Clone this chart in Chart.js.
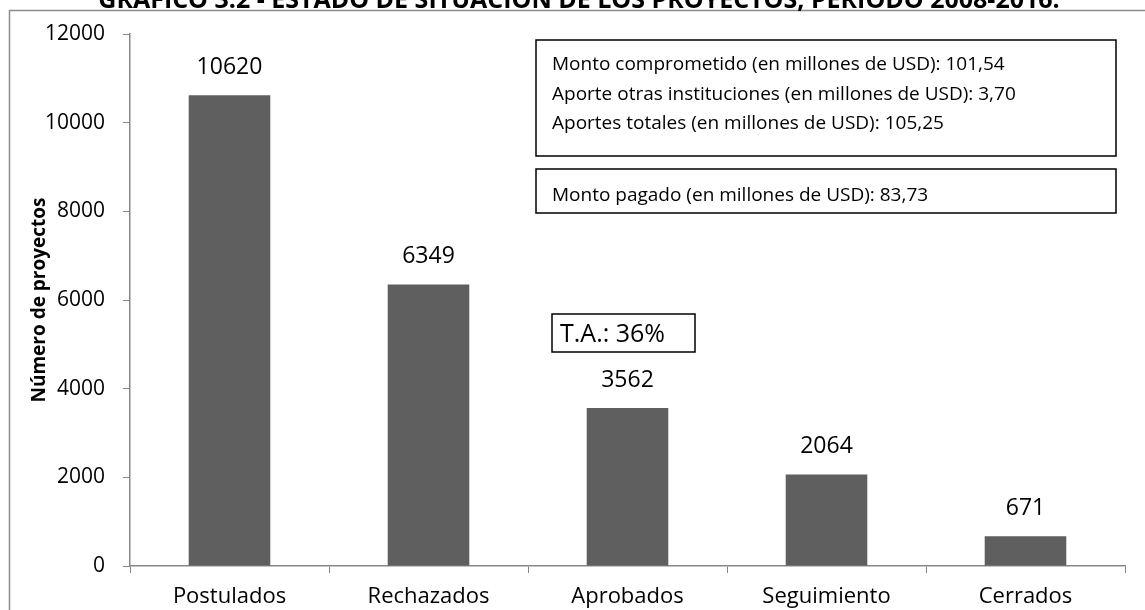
<!DOCTYPE html>
<html>
<head>
<meta charset="utf-8">
<script src="https://cdn.jsdelivr.net/npm/chart.js@4"></script>
<style>
  html, body { margin: 0; padding: 0; background: #fff; }
  #chart { display: block; }
</style>
</head>
<body>
<canvas id="chart" width="1145" height="610"></canvas>
<script>
const titleText = "GRÁFICO 3.2 - ESTADO DE SITUACIÓN DE LOS PROYECTOS, PERIODO 2008-2016.";
const categories = ["Postulados", "Rechazados", "Aprobados", "Seguimiento", "Cerrados"];
const proyectos = [10620, 6349, 3562, 2064, 671];
const yMin = 0, yMax = 12000, yStep = 2000;
const montoLines = [
    "Monto comprometido (en millones de USD): 101,54",
    "Aporte otras instituciones (en millones de USD): 3,70",
    "Aportes totales (en millones de USD): 105,25",
];
const pagadoText = "Monto pagado (en millones de USD): 83,73";
const tasaText = "T.A.: 36%";

const FONT = "'Open Sans', 'Noto Sans', sans-serif";
const AXIS_GREY = "#878787";

// frame, title, value labels and text boxes
const extras = {
    id: "extras",
    afterDraw(chart) {
        const ctx = chart.ctx;
        ctx.save();

        // outer frame (cut off on the right/bottom like the original)
        ctx.strokeStyle = "#8c8c8c";
        ctx.lineWidth = 1.5;
        ctx.strokeRect(9.5, 10.5, 1300, 700);

        // title, half cropped at the top
        ctx.fillStyle = "#000";
        ctx.font = "bold 25px " + FONT;
        ctx.textAlign = "center";
        ctx.textBaseline = "alphabetic";
        ctx.fillText(titleText, 579, 8);

        // values above bars
        const meta = chart.getDatasetMeta(0);
        ctx.font = "23px " + FONT;
        ctx.textBaseline = "middle";
        meta.data.forEach((bar, i) => {
            ctx.fillText(String(proyectos[i]), bar.x, bar.y - 28);
        });

        // boxes
        ctx.strokeStyle = "#000";
        ctx.lineWidth = 1.5;
        ctx.textAlign = "left";
        ctx.font = "19px " + FONT;

        ctx.strokeRect(536, 40, 580, 116);
        montoLines.forEach((t, i) => ctx.fillText(t, 552, 65 + i * 29.5));

        ctx.strokeRect(536, 169, 580, 44);
        ctx.fillText(pagadoText, 552, 196);

        ctx.strokeRect(552, 314, 143, 38);
        ctx.font = "25px " + FONT;
        ctx.fillText(tasaText, 560, 335);

        ctx.restore();
    },
};

new Chart(document.getElementById("chart"), {
    type: "bar",
    data: {
        labels: categories,
        datasets: [
            {
                label: "Número de proyectos",
                data: proyectos,
                backgroundColor: "#5f5f5f",
                borderWidth: 0,
                barPercentage: 0.41,
                categoryPercentage: 1,
            },
        ],
    },
    options: {
        responsive: false,
        animation: false,
        layout: { padding: { top: 34, right: 20, left: 0, bottom: 0 } },
        plugins: {
            legend: { display: false },
            tooltip: { enabled: false },
            title: { display: false },
        },
        scales: {
            x: {
                afterFit: (scale) => { scale.height = 44; },
                grid: {
                    offset: true,
                    drawOnChartArea: false,
                    color: AXIS_GREY,
                    tickLength: 7,
                },
                border: { color: AXIS_GREY, width: 1.5 },
                ticks: {
                    color: "#000",
                    font: { family: FONT, size: 22 },
                    padding: 11,
                },
            },
            y: {
                min: yMin,
                max: yMax,
                afterFit: (scale) => { scale.width = 130; },
                grid: {
                    drawOnChartArea: false,
                    color: AXIS_GREY,
                    tickLength: 7,
                },
                border: { color: AXIS_GREY, width: 1.5 },
                ticks: {
                    stepSize: yStep,
                    color: "#000",
                    font: { family: FONT, size: 21 },
                    padding: 18,
                    callback: (v) => String(v),
                },
                title: {
                    display: true,
                    text: "Número de proyectos",
                    color: "#000",
                    font: { family: FONT, size: 19, weight: "bold" },
                    padding: { top: 28, bottom: 0 },
                },
            },
        },
    },
    plugins: [extras],
});
</script>
</body>
</html>
